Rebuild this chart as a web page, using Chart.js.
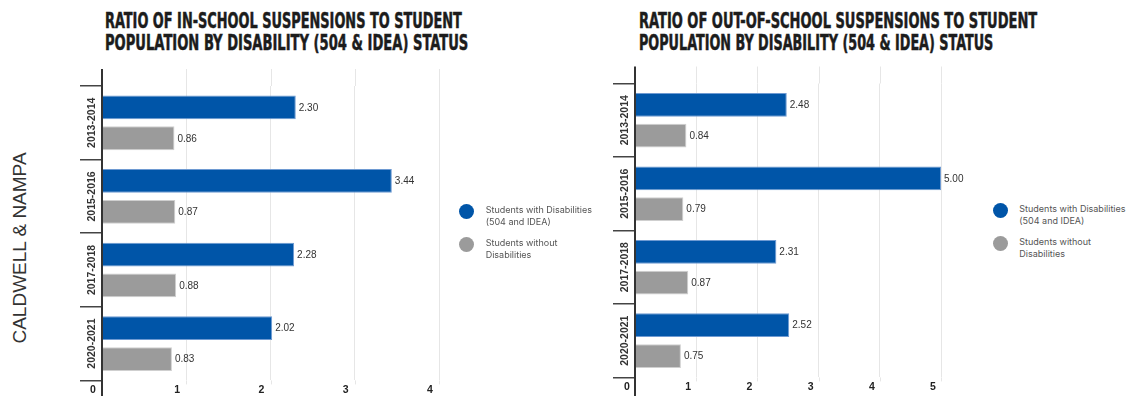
<!DOCTYPE html>
<html>
<head>
<meta charset="utf-8">
<script src="https://cdn.jsdelivr.net/npm/chart.js@4.4.1/dist/chart.umd.min.js"></script>
<style>
  html, body { margin: 0; padding: 0; background: #fff; width: 1142px; height: 396px; overflow: hidden; position: relative; }
  .title { position: absolute; font-family: "DejaVu Sans Condensed", "DejaVu Sans", sans-serif; font-weight: bold; font-size: 21px; line-height: 1; color: #1c1c1c; -webkit-text-stroke: 0.5px #1c1c1c; white-space: nowrap; transform-origin: 0 0; }
  .side { position: absolute; left: 20px; top: 248px; transform: translate(-50%, -50%) rotate(-90deg); font-family: "Liberation Sans", Arial, sans-serif; font-size: 19px; color: #333; white-space: nowrap; }
  .box { position: absolute; }
  .legend { position: absolute; font-family: Inter, "Noto Sans", sans-serif; font-size: 9px; line-height: 12.3px; color: #555; }
  .legend .item { position: absolute; left: 0; white-space: nowrap; }
  .legend .dot { position: absolute; width: 15px; height: 15px; border-radius: 50%; }
</style>
</head>
<body>
<div class="side">CALDWELL &amp; NAMPA</div>

<div class="title" data-w="357" style="left:105px; top:10.8px;">RATIO OF IN-SCHOOL SUSPENSIONS TO STUDENT</div>
<div class="title" data-w="363" style="left:105px; top:32.5px;">POPULATION BY DISABILITY (504 &amp; IDEA) STATUS</div>
<div class="title" data-w="398" style="left:639px; top:10.8px;">RATIO OF OUT-OF-SCHOOL SUSPENSIONS TO STUDENT</div>
<div class="title" data-w="354" style="left:639px; top:32.5px;">POPULATION BY DISABILITY (504 &amp; IDEA) STATUS</div>

<div class="box" style="left:60px; top:60px; width:400px; height:339px;"><canvas id="inChart"></canvas></div>
<div class="box" style="left:600px; top:60px; width:370px; height:336px;"><canvas id="outChart"></canvas></div>

<div class="legend" id="legendIn" style="left:459px; top:204px;"></div>
<div class="legend" id="legendOut" style="left:992.5px; top:203px;"></div>

<script>
// Data
const seasons = ['2013-2014', '2015-2016', '2017-2018', '2020-2021'];
const seriesNames = ['Students with Disabilities (504 and IDEA)', 'Students without Disabilities'];
const legendLines = [['Students with Disabilities', '(504 and IDEA)'], ['Students without', 'Disabilities']];
const inSchoolWith = [2.30, 3.44, 2.28, 2.02];
const inSchoolWithout = [0.86, 0.87, 0.88, 0.83];
const outSchoolWith = [2.48, 5.00, 2.31, 2.52];
const outSchoolWithout = [0.84, 0.79, 0.87, 0.75];
const inSchoolTicks = [0, 1, 2, 3, 4];
const outSchoolTicks = [0, 1, 2, 3, 4, 5];

const BLUE = '#0055a8';
const GREY = '#9b9b9b';

// Squeeze the titles to the condensed width of the original
document.querySelectorAll('.title').forEach(el => {
    const target = parseFloat(el.dataset.w);
    el.style.transform = 'scaleX(' + (target / el.offsetWidth) + ')';
});

// HTML legends
function buildLegend(id, dotLeft, textLeft) {
    const box = document.getElementById(id);
    const colors = [BLUE, GREY];
    legendLines.forEach((lines, i) => {
        const item = document.createElement('div');
        item.className = 'item';
        item.style.top = (i * 33) + 'px';
        item.style.left = '0px';
        const dot = document.createElement('div');
        dot.className = 'dot';
        dot.style.background = colors[i];
        dot.style.left = dotLeft + 'px';
        dot.style.top = '0px';
        const txt = document.createElement('div');
        txt.style.position = 'absolute';
        txt.style.left = textLeft + 'px';
        txt.style.top = '0px';
        txt.innerHTML = lines.join('<br>');
        item.appendChild(dot);
        item.appendChild(txt);
        box.appendChild(item);
    });
}
buildLegend('legendIn', 0, 26.7);
buildLegend('legendOut', 0, 26.8);

// Value labels at the end of each bar, category labels and the axis stubs
const decorPlugin = {
    id: 'decor',
    afterDatasetsDraw(chart) {
        const ctx = chart.ctx;
        ctx.save();
        ctx.font = '10px "Liberation Sans", Arial, sans-serif';
        ctx.fillStyle = '#333';
        ctx.textAlign = 'left';
        ctx.textBaseline = 'middle';
        chart.data.datasets.forEach((ds, di) => {
            chart.getDatasetMeta(di).data.forEach((bar, i) => {
                ctx.fillText(ds.data[i].toFixed(2), bar.x + 3, bar.y + 0.5);
            });
        });
        ctx.restore();
    },
    afterDraw(chart) {
        const ctx = chart.ctx;
        const area = chart.chartArea;
        const xs = chart.scales.x;
        const ys = chart.scales.y;
        const ext = 17;
        ctx.save();
        // grid lines continue a little above and below the plot
        ctx.strokeStyle = '#e6e6e6';
        ctx.lineWidth = 1;
        xs.ticks.forEach(t => {
            if (t.value === 0) return;
            const px = Math.round(xs.getPixelForValue(t.value)) + 0.5;
            ctx.beginPath();
            ctx.moveTo(px, area.top - ext);
            ctx.lineTo(px, area.top);
            ctx.moveTo(px, area.bottom);
            ctx.lineTo(px, area.bottom + 4);
            ctx.stroke();
        });
        // axis line
        ctx.strokeStyle = '#333';
        ctx.lineWidth = 2;
        ctx.beginPath();
        ctx.moveTo(area.left, area.top - ext);
        ctx.lineTo(area.left, chart.height);
        ctx.stroke();
        // rotated category labels
        ctx.font = 'bold 10.5px "Liberation Sans", Arial, sans-serif';
        ctx.fillStyle = '#333';
        ctx.textAlign = 'center';
        ctx.textBaseline = 'middle';
        seasons.forEach((s, i) => {
            const py = ys.getPixelForTick(i);
            ctx.save();
            ctx.translate(area.left - 10, py);
            ctx.rotate(-Math.PI / 2);
            ctx.fillText(s, 0, 0);
            ctx.restore();
        });
        ctx.restore();
    }
};

function makeChart(id, withVals, withoutVals, tickVals, pad, labelOffset) {
    return new Chart(document.getElementById(id), {
        type: 'bar',
        data: {
            labels: seasons,
            datasets: [{
                label: seriesNames[0],
                data: withVals,
                backgroundColor: BLUE,
                borderColor: '#6e9ad2',
                borderWidth: 1,
                categoryPercentage: 0.84,
                barPercentage: 0.77
            }, {
                label: seriesNames[1],
                data: withoutVals,
                backgroundColor: GREY,
                borderColor: '#cfcfcf',
                borderWidth: 1,
                categoryPercentage: 0.84,
                barPercentage: 0.77
            }]
        },
        options: {
            indexAxis: 'y',
            responsive: true,
            maintainAspectRatio: false,
            animation: false,
            layout: { padding: pad },
            plugins: {
                legend: { display: false },
                tooltip: { enabled: false }
            },
            scales: {
                x: {
                    min: 0,
                    max: tickVals[tickVals.length - 1],
                    afterBuildTicks: scale => { scale.ticks = tickVals.map(v => ({ value: v })); },
                    grid: {
                        color: c => (c.tick && c.tick.value === 0) ? 'rgba(0,0,0,0)' : '#e6e6e6',
                        drawTicks: false,
                        lineWidth: 1
                    },
                    border: { display: false },
                    ticks: {
                        padding: 3,
                        labelOffset: labelOffset,
                        color: '#222',
                        font: { family: '"Liberation Sans", Arial, sans-serif', weight: 'bold', size: 10.5 }
                    }
                },
                y: {
                    grid: {
                        offset: true,
                        drawOnChartArea: false,
                        drawTicks: true,
                        tickLength: 22,
                        color: '#444',
                        lineWidth: 1.5
                    },
                    border: { display: false },
                    ticks: { display: false }
                }
            }
        },
        plugins: [decorPlugin]
    });
}

makeChart('inChart', inSchoolWith, inSchoolWithout, inSchoolTicks, { left: 20, top: 26, right: 21, bottom: 0 }, -9);
makeChart('outChart', outSchoolWith, outSchoolWithout, outSchoolTicks, { left: 13, top: 23.5, right: 29, bottom: 0 }, -8);
</script>
</body>
</html>
